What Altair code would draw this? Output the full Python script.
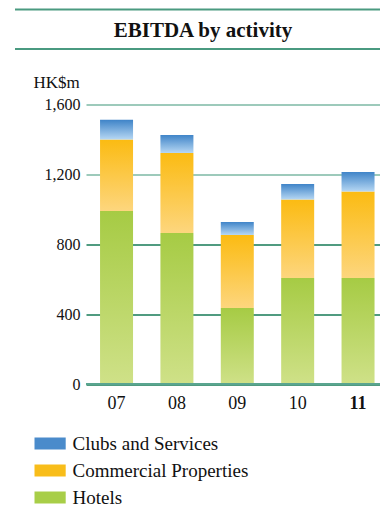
import altair as alt
import pandas as pd

# EBITDA by activity, HK$m
years = ["07", "08", "09", "10", "11"]
hotels = [990, 865, 435, 607, 607]
commercial = [410, 458, 418, 449, 495]
clubs = [112, 103, 75, 89, 112]

series_names = ["Clubs and Services", "Commercial Properties", "Hotels"]
legend_colors = ["#4a8bcb", "#f8bd1a", "#a8ce48"]
y_ticks = [0, 400, 800, 1200, 1600]

rows = []
for i, yr in enumerate(years):
    rows.append({"year": yr, "series": "Hotels", "order": 0, "value": hotels[i]})
    rows.append({"year": yr, "series": "Commercial Properties", "order": 1, "value": commercial[i]})
    rows.append({"year": yr, "series": "Clubs and Services", "order": 2, "value": clubs[i]})
df = pd.DataFrame(rows)


def vgrad(top, bottom):
    return alt.Gradient(
        gradient="linear",
        x1=0, x2=0, y1=0, y2=1,
        stops=[alt.GradientStop(color=top, offset=0),
               alt.GradientStop(color=bottom, offset=1)],
    )


fills = {
    "Hotels": vgrad("#a6cb44", "#cfe188"),
    "Commercial Properties": vgrad("#fbbb12", "#fdd67e"),
    "Clubs and Services": vgrad("#3f84c8", "#b6d7f3"),
}

x_enc = alt.X(
    "year:N",
    sort=years,
    title=None,
    scale=alt.Scale(paddingInner=0.4534, paddingOuter=0.1615, align=0.72),
    axis=alt.Axis(
        labelFontSize=18,
        labelColor="#111111",
        labelPadding=10,
        labelAngle=0,
        ticks=False,
        domain=False,
        labelFontWeight=alt.condition("datum.value == '11'", alt.value("bold"), alt.value("normal")),
    ),
)
y_scale = alt.Scale(domain=[0, 1600], nice=False)
y_axis = alt.Axis(
    values=y_ticks,
    format=",.0f",
    titleAngle=0,
    titleAlign="left",
    titleBaseline="alphabetic",
    titleX=-53,
    titleY=-17,
    titleFontSize=17,
    titleFontWeight="normal",
    titleColor="#111111",
    labelFontSize=16,
    labelColor="#111111",
    labelPadding=6,
    labelBaseline="alphabetic",
    labelOffset=5,
    ticks=False,
    domain=False,
    grid=True,
    gridWidth=1.3,
    gridColor=alt.condition("datum.value >= 1200", alt.value("#7cb9a5"), alt.value("#167a56")),
)
y_enc = alt.Y("y0:Q", scale=y_scale, axis=y_axis, title="HK$m")

base = alt.Chart(df).transform_stack(
    stack="value",
    groupby=["year"],
    as_=["y0", "y1"],
    sort=[alt.SortField("order", order="ascending")],
)

layers = []
for name in ["Hotels", "Commercial Properties", "Clubs and Services"]:
    layer = base.transform_filter(alt.datum.series == name).mark_bar(color=fills[name]).encode(
        x=x_enc,
        y=y_enc,
        y2="y1:Q",
    )
    layers.append(layer)

# transparent layer that carries the colour legend
legend_layer = base.mark_bar(opacity=0).encode(
    x=x_enc,
    y=y_enc,
    y2="y1:Q",
    color=alt.Color(
        "series:N",
        scale=alt.Scale(domain=series_names, range=legend_colors),
        legend=alt.Legend(
            title=None,
            orient="none",
            legendX=-45.4,
            legendY=329.5,
            direction="vertical",
            symbolType="M-2.6,-1H2.6V1H-2.6Z",
            symbolSize=144,
            symbolOpacity=1,
            symbolStrokeWidth=0,
            labelFontSize=19,
            labelColor="#111111",
            labelOffset=13,
            labelLimit=400,
            rowPadding=7,
            padding=0,
        ),
    ),
)

zero_line = alt.Chart(pd.DataFrame({"v": [0]})).mark_rule(color="#5aa590", strokeWidth=2).encode(
    y=alt.Y("v:Q", scale=y_scale, axis=y_axis, title="HK$m")
)

# decorative rules framing the heading
top_rule = alt.Chart(pd.DataFrame({"v": [0]})).mark_rule(color="#4a9a80", strokeWidth=2).encode(
    x=alt.value(-71), x2=alt.value(294), y=alt.value(-95)
)
mid_rule = alt.Chart(pd.DataFrame({"v": [0]})).mark_rule(color="#4a9a80", strokeWidth=2).encode(
    x=alt.value(-71), x2=alt.value(294), y=alt.value(-55.5)
)

chart = alt.layer(*layers, legend_layer, zero_line, top_rule, mid_rule).properties(
    width=294,
    height=279.5,
    title=alt.TitleParams(
        "EBITDA by activity",
        anchor="middle",
        frame="group",
        fontSize=21,
        fontWeight="bold",
        color="#111111",
        baseline="alphabetic",
        dx=-30,
        dy=49,
        offset=0,
    ),
    autosize=alt.AutoSizeParams(type="none"),
    padding={"left": 86, "top": 104.5, "right": 0, "bottom": 132},
).configure(
    font="Liberation Serif",
).configure_view(
    stroke=None
)

chart.save("out.html", embed_options={"renderer": "svg", "actions": False})
